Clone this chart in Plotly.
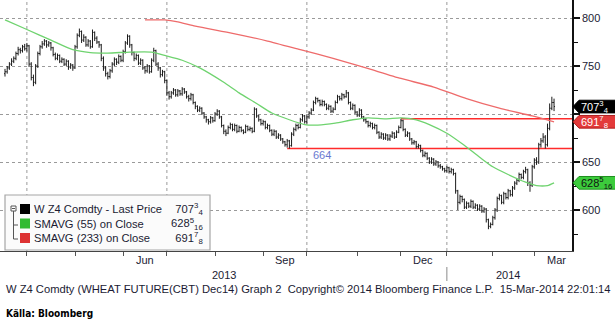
import pandas as pd
import plotly.graph_objects as go

# W Z4 (CBOT wheat, Dec 2014) daily bars, 15-Mar-2013 .. 14-Mar-2014, US cents/bushel
close = [
    744, 748, 752, 755, 758, 763, 767, 766, 770, 768,
    771, 752, 738, 733, 750, 763, 770, 773, 776, 772,
    774, 769, 762, 758, 761, 755, 757, 752, 755, 749,
    751, 748, 770, 782, 786, 777, 780, 772, 776, 770,
    785, 779, 775, 772, 758, 748, 742, 739, 745, 752,
    757, 754, 760, 756, 765, 774, 781, 772, 764, 758,
    761, 753, 756, 748, 745, 750, 744, 756, 766, 752,
    748, 741, 744, 735, 722, 718, 722, 725, 720, 724,
    721, 726, 723, 718, 716, 720, 712, 708, 704, 706,
    701, 697, 694, 692, 696, 693, 700, 703, 697, 688,
    682, 680, 686, 689, 684, 688, 682, 686, 683, 681,
    687, 684, 685, 682, 705, 698, 694, 690, 692, 686,
    688, 683, 679, 682, 676, 678, 674, 671, 668, 672,
    667, 679, 684, 688, 686, 694, 698, 692, 697, 701,
    704, 712, 716, 714, 710, 713, 710, 706, 708, 703,
    705, 712, 718, 716, 720, 718, 722, 712, 706, 709,
    702, 699, 704, 697, 694, 692, 688, 690, 686, 688,
    681, 676, 679, 675, 678, 674, 677, 680, 676, 681,
    686, 693, 684, 678, 680, 674, 670, 671, 666, 667,
    662, 657, 659, 654, 650, 653, 648, 650, 646, 645,
    643, 641, 644, 640, 642, 638, 620, 608, 614, 611,
    603, 607, 604, 609, 603, 605, 601, 604, 599, 601,
    590, 583, 585, 592, 600, 612, 615, 608, 617, 613,
    620, 616, 623, 628, 631, 637, 634, 640, 642, 628,
    626, 645, 652, 650, 668, 672, 676, 668, 685, 706,
    712, 707.75,
]
open_ = [
    742, 744, 748, 752, 755, 758, 763, 767, 766, 770,
    768, 771, 752, 738, 733, 750, 763, 770, 773, 776,
    772, 774, 769, 762, 758, 761, 755, 757, 752, 755,
    749, 751, 748, 770, 782, 786, 777, 780, 772, 776,
    770, 785, 779, 775, 772, 758, 748, 742, 739, 745,
    752, 757, 754, 760, 756, 765, 774, 781, 772, 764,
    758, 761, 753, 756, 748, 745, 750, 744, 756, 766,
    752, 748, 741, 744, 735, 722, 718, 722, 725, 720,
    724, 721, 726, 723, 718, 716, 720, 712, 708, 704,
    706, 701, 697, 694, 692, 696, 693, 700, 703, 697,
    688, 682, 680, 686, 689, 684, 688, 682, 686, 683,
    681, 687, 684, 685, 682, 705, 698, 694, 690, 692,
    686, 688, 683, 679, 682, 676, 678, 674, 671, 668,
    672, 667, 679, 684, 688, 686, 694, 698, 692, 697,
    701, 704, 712, 716, 714, 710, 713, 710, 706, 708,
    703, 705, 712, 718, 716, 720, 718, 722, 712, 706,
    709, 702, 699, 704, 697, 694, 692, 688, 690, 686,
    688, 681, 676, 679, 675, 678, 674, 677, 680, 676,
    681, 686, 693, 684, 678, 680, 674, 670, 671, 666,
    667, 662, 657, 659, 654, 650, 653, 648, 650, 646,
    645, 643, 641, 644, 640, 642, 638, 620, 608, 614,
    611, 603, 607, 604, 609, 603, 605, 601, 604, 599,
    601, 590, 583, 585, 592, 600, 612, 615, 608, 617,
    613, 620, 616, 623, 628, 631, 637, 634, 640, 642,
    628, 626, 645, 652, 650, 668, 672, 676, 668, 685,
    706, 712,
]
high = [
    747, 750, 754, 758, 760, 765, 770, 769, 772, 773,
    774, 772, 754, 741, 752, 765, 772, 776, 778, 777,
    776, 775, 770, 764, 763, 762, 759, 758, 757, 756,
    753, 752, 772, 784, 789, 787, 783, 781, 778, 777,
    788, 786, 781, 776, 773, 760, 750, 744, 747, 754,
    759, 758, 762, 761, 767, 776, 783, 782, 773, 765,
    763, 762, 758, 757, 750, 752, 751, 758, 769, 767,
    754, 749, 746, 745, 736, 724, 724, 727, 726, 726,
    725, 728, 727, 724, 720, 722, 721, 713, 709, 708,
    707, 702, 698, 695, 698, 697, 702, 705, 704, 698,
    689, 684, 688, 691, 690, 690, 689, 688, 687, 684,
    689, 688, 687, 686, 707, 706, 699, 695, 694, 693,
    690, 689, 684, 684, 683, 680, 679, 675, 672, 674,
    673, 681, 686, 690, 690, 696, 700, 699, 699, 703,
    706, 714, 718, 717, 715, 715, 714, 711, 710, 709,
    707, 714, 720, 719, 722, 721, 725, 723, 713, 711,
    710, 703, 706, 705, 698, 696, 693, 692, 691, 690,
    689, 682, 681, 680, 680, 679, 679, 682, 681, 683,
    688, 695, 694, 685, 682, 681, 675, 673, 672, 669,
    668, 663, 661, 660, 655, 655, 654, 652, 651, 648,
    646, 644, 646, 645, 644, 643, 639, 621, 616, 615,
    612, 609, 608, 611, 610, 607, 606, 606, 605, 603,
    602, 591, 587, 594, 602, 614, 617, 616, 619, 618,
    622, 621, 625, 630, 633, 639, 638, 642, 645, 643,
    630, 647, 654, 655, 670, 675, 680, 678, 690, 711,
    718, 716,
]
low = [
    739, 742, 746, 750, 753, 756, 761, 763, 764, 766,
    765, 749, 735, 729, 731, 748, 761, 768, 771, 769,
    770, 766, 760, 756, 756, 753, 753, 750, 750, 746,
    747, 745, 747, 768, 780, 774, 775, 770, 770, 768,
    769, 776, 773, 769, 755, 745, 739, 736, 737, 743,
    750, 751, 752, 754, 754, 763, 772, 769, 761, 755,
    756, 751, 751, 746, 742, 743, 742, 743, 754, 750,
    745, 738, 739, 732, 719, 715, 716, 720, 718, 718,
    719, 719, 721, 716, 713, 714, 710, 705, 702, 702,
    699, 695, 691, 689, 690, 691, 692, 698, 695, 686,
    679, 677, 679, 684, 682, 682, 680, 681, 681, 679,
    680, 682, 682, 680, 681, 696, 692, 688, 688, 684,
    684, 681, 677, 677, 674, 674, 672, 669, 666, 665,
    664, 666, 677, 682, 684, 685, 692, 690, 690, 695,
    699, 703, 710, 712, 708, 708, 708, 704, 704, 701,
    701, 704, 711, 714, 714, 716, 717, 710, 704, 704,
    700, 697, 697, 695, 692, 690, 686, 686, 684, 684,
    679, 674, 674, 673, 673, 672, 672, 675, 674, 675,
    680, 685, 682, 676, 676, 672, 668, 668, 664, 664,
    660, 655, 655, 652, 648, 648, 646, 646, 644, 643,
    641, 639, 639, 638, 638, 636, 617, 600, 606, 608,
    601, 601, 602, 602, 601, 601, 599, 599, 597, 597,
    587, 580, 581, 584, 590, 598, 610, 606, 606, 611,
    611, 614, 614, 621, 626, 629, 632, 632, 638, 625,
    619, 624, 643, 647, 648, 665, 670, 664, 666, 683,
    704, 703,
]

# simple moving averages on close, sampled by session number
sma55_session = [0, 10, 21, 31, 39, 47, 57, 67, 73, 81, 89, 100, 107, 115, 122,
                 130, 137, 143, 151, 159, 166, 174, 181, 188, 194, 202, 209, 217,
                 223, 230, 238, 243, 248, 251]
sma55_value = [798, 788, 777, 767, 764, 763.5, 764.5, 764.5, 761, 756, 748, 733, 722,
               711, 701, 694, 689, 688.5, 690.5, 694, 696, 695, 696, 694, 689, 680,
               669, 655, 645, 637, 629, 625.5, 625.5, 628.3125]
sma233_session = [64, 73, 79, 87, 104, 120, 135, 150, 165, 181, 196, 211, 226, 241, 251]
sma233_value = [798, 798, 796, 791.5, 784, 776, 767, 758, 748, 737, 728, 716, 706,
                698, 691.875]

last_price = 707.75
last_sma55 = 628.3125
last_sma233 = 691.875
support_level = 664
support_from = 129      # session where the 664 line starts
resistance_level = 695
resistance_from = 181   # session where the upper line starts

series_names = ["W Z4 Comdty - Last Price", "SMAVG (55) on Close", "SMAVG (233) on Close"]
series_last = ["707<sup>3</sup><sub>4</sub>", "628<sup>5</sup><sub>16</sub>", "691<sup>7</sup><sub>8</sub>"]
series_colors = ["#000000", "#33bb33", "#dd3333"]

# CBOT closed on these weekdays
holidays = ["2013-03-29", "2013-05-27", "2013-07-04", "2013-09-02", "2013-11-28",
            "2013-12-25", "2014-01-01", "2014-01-20", "2014-02-17"]
sessions = [d for d in pd.bdate_range("2013-03-15", "2014-03-14")
            if d.strftime("%Y-%m-%d") not in holidays]
assert len(sessions) == len(close) == len(open_) == len(high) == len(low)

FONT = "Liberation Sans, Arial, sans-serif"
TXT = "#1b1b33"
W, H = 615, 322
ML, MR, MT, MB = 0, 43, 0, 71
PW, PH = W - ML - MR, H - MT - MB


def px(x):
    return (x - ML) / PW


def py(y):
    return (MT + PH - y) / PH


x_range = ["2013-03-12 17:00", "2014-03-26 05:00"]
y_range = [557.3, 818.75]

fig = go.Figure()
fig.add_trace(go.Scatter(
    x=[sessions[i] for i in sma233_session], y=sma233_value, mode="lines",
    line=dict(color="#ee6b6b", width=1.3, shape="spline", smoothing=0.6),
    hoverinfo="skip", showlegend=False))
fig.add_trace(go.Scatter(
    x=[sessions[i] for i in sma55_session], y=sma55_value, mode="lines",
    line=dict(color="#6fd36f", width=1.3, shape="spline", smoothing=0.6),
    hoverinfo="skip", showlegend=False))
fig.add_trace(go.Ohlc(
    x=sessions, open=open_, high=high, low=low, close=close,
    increasing=dict(line=dict(color="#1c1c1c", width=1)),
    decreasing=dict(line=dict(color="#1c1c1c", width=1)),
    tickwidth=0.45, hoverinfo="skip", showlegend=False))

shapes = []
annotations = []

# quarterly vertical grid
for q in ["2013-04-01", "2013-07-01", "2013-10-01", "2014-01-02"]:
    shapes.append(dict(type="line", xref="x", yref="paper", x0=q, x1=q, y0=0, y1=1,
                       line=dict(color="#9a9a9a", width=1, dash="dot"), layer="below"))

# horizontal support / resistance lines
shapes.append(dict(type="line", xref="x", yref="y", x0=sessions[support_from], x1=x_range[1],
                   y0=support_level, y1=support_level,
                   line=dict(color="#ff2b2b", width=1.6), layer="below"))
shapes.append(dict(type="line", xref="x", yref="y", x0=sessions[resistance_from], x1=x_range[1],
                   y0=resistance_level, y1=resistance_level,
                   line=dict(color="#ff2b2b", width=1.6), layer="below"))
annotations.append(dict(xref="x", yref="y", x=sessions[145], y=657, text=str(support_level),
                        showarrow=False, font=dict(family=FONT, size=11, color="#6a78d0")))

# year separator under the axis
shapes.append(dict(type="line", xref="x", yref="paper", x0="2014-01-02", x1="2014-01-02",
                   y0=py(267), y1=py(281), line=dict(color="#8a8a8a", width=1)))

# month and year labels
for d, t in [("2013-06-17", "Jun"), ("2013-09-17", "Sep"), ("2013-12-16", "Dec"), ("2014-03-17", "Mar")]:
    annotations.append(dict(xref="x", yref="paper", x=d, y=py(260), text=t, showarrow=False,
                            xanchor="center", yanchor="middle",
                            font=dict(family=FONT, size=11, color=TXT)))
for xc, t in [(224, "2013"), (508, "2014")]:
    annotations.append(dict(xref="paper", yref="paper", x=px(xc), y=py(275), text=t,
                            showarrow=False, xanchor="center", yanchor="middle",
                            font=dict(family=FONT, size=11, color=TXT)))


# value tags on the price axis
def value_tag(v, text, fill, edge, tcolor):
    h = 6.6
    tip, body, right = px(573), px(579), px(617)
    shapes.append(dict(type="path", xref="paper", yref="y", layer="above",
                       path=f"M {tip},{v} L {body},{v + h} L {right},{v + h} "
                            f"L {right},{v - h} L {body},{v - h} Z",
                       fillcolor=fill, line=dict(color=edge, width=1)))
    annotations.append(dict(xref="paper", yref="y", x=px(579), y=v, text=text, showarrow=False,
                            xanchor="left", yanchor="middle",
                            font=dict(family=FONT, size=11, color=tcolor)))


value_tag(last_price, series_last[0], "#000000", "#000000", "#ffffff")
value_tag(last_sma233, series_last[2], "#e33a3a", "#b02020", "#ffffff")
value_tag(last_sma55, series_last[1], "#3ccc3c", "#1f8f1f", "#111111")

# legend panel
shapes.append(dict(type="rect", xref="paper", yref="paper", x0=px(5), x1=px(210),
                   y0=py(250), y1=py(195), fillcolor="#fbfbfb",
                   line=dict(color="#a6a6a6", width=1.2), layer="above"))
# tree icon
shapes.append(dict(type="rect", xref="paper", yref="paper", x0=px(11), x1=px(16),
                   y0=py(211), y1=py(206), fillcolor="#ffffff",
                   line=dict(color="#555555", width=1), layer="above"))
shapes.append(dict(type="line", xref="paper", yref="paper", x0=px(12), x1=px(15),
                   y0=py(208.5), y1=py(208.5), line=dict(color="#555555", width=1), layer="above"))
shapes.append(dict(type="line", xref="paper", yref="paper", x0=px(13.5), x1=px(13.5),
                   y0=py(211), y1=py(239), line=dict(color="#555555", width=1), layer="above"))
for yy in (225, 239):
    shapes.append(dict(type="line", xref="paper", yref="paper", x0=px(13.5), x1=px(18),
                       y0=py(yy), y1=py(yy), line=dict(color="#555555", width=1), layer="above"))

row_y = [209, 223.5, 238]
for color, yc in zip(series_colors, row_y):
    shapes.append(dict(type="rect", xref="paper", yref="paper", x0=px(20), x1=px(30),
                       y0=py(yc + 5), y1=py(yc - 5), fillcolor=color,
                       line=dict(color=color, width=0), layer="above"))
annotations.append(dict(xref="paper", yref="paper", x=px(32), y=py(row_y[1]),
                        text="<br>".join(series_names), align="left",
                        showarrow=False, xanchor="left", yanchor="middle",
                        font=dict(family=FONT, size=11.2, color=TXT)))
annotations.append(dict(xref="paper", yref="paper", x=px(205), y=py(row_y[1]),
                        text="<br>".join(series_last), align="right",
                        showarrow=False, xanchor="right", yanchor="middle",
                        font=dict(family=FONT, size=11.2, color=TXT)))

# footer
annotations.append(dict(
    xref="paper", yref="paper", x=px(4), y=py(289), showarrow=False, xanchor="left", yanchor="middle",
    text="W Z4 Comdty (WHEAT FUTURE(CBT) Dec14) Graph 2  Copyright© 2014 Bloomberg Finance L.P.  15-Mar-2014 22:01:14",
    font=dict(family=FONT, size=11.2, color=TXT)))
annotations.append(dict(
    xref="paper", yref="paper", x=px(4), y=py(313), showarrow=False, xanchor="left", yanchor="middle",
    text="<b>Källa: Bloomberg</b>",
    font=dict(family="Liberation Sans Narrow, DejaVu Sans Condensed, Arial Narrow, sans-serif",
              size=10, color="#000000")))

month_starts = pd.Series(sessions).groupby([d.strftime("%Y-%m") for d in sessions]).first().tolist()[1:]

fig.update_layout(
    width=W, height=H, margin=dict(l=ML, r=MR, t=MT, b=MB),
    paper_bgcolor="white", plot_bgcolor="white",
    hovermode=False, showlegend=False,
    shapes=shapes, annotations=annotations,
    xaxis=dict(
        type="date", range=x_range,
        rangebreaks=[dict(bounds=["sat", "mon"]), dict(values=holidays)],
        rangeslider=dict(visible=False),
        showgrid=False, zeroline=False,
        showline=True, linecolor="#444444", linewidth=1,
        tickmode="array", tickvals=month_starts, showticklabels=False,
        ticks="outside", ticklen=4, tickcolor="#555555", tickwidth=1,
    ),
    yaxis=dict(
        side="right", range=y_range, zeroline=False,
        tickmode="array", tickvals=[600, 650, 700, 750, 800],
        ticktext=["600", "650", "", "750", "800"],
        ticks="outside", ticklen=6, tickwidth=2, tickcolor="#111111",
        tickfont=dict(family=FONT, size=11, color=TXT),
        showgrid=True, gridcolor="#9a9a9a", griddash="dot", gridwidth=1,
        showline=True, linecolor="#111111", linewidth=1.5,
        minor=dict(tickvals=[575, 625, 675, 725, 775], ticks="outside", ticklen=4,
                   tickcolor="#111111", tickwidth=1, showgrid=False),
    ),
)

fig.write_html("out.html")
